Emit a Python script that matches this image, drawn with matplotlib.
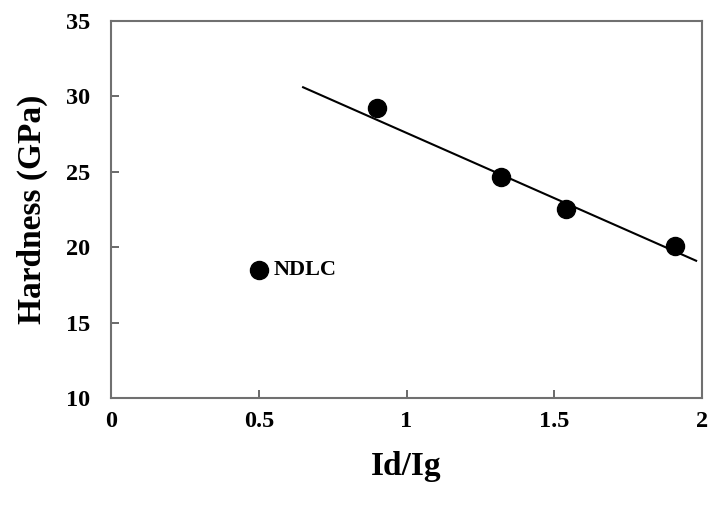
import numpy as np
import matplotlib
matplotlib.use("Agg")
import matplotlib.pyplot as plt

# measured hardness vs Raman intensity ratio
id_ig = [0.90, 1.32, 1.54, 1.91]
hardness = [29.2, 24.65, 22.5, 20.1]

# NDLC sample, shown separately
ndlc_x = [0.50]
ndlc_y = [18.5]

# linear trend drawn across the measured points
trend_x = [0.65, 1.98]
trend_y = [30.6, 19.1]

plt.rcParams['font.family'] = ['Liberation Serif', 'DejaVu Serif']
plt.rcParams['font.weight'] = 'bold'

fig = plt.figure(figsize=(7.12, 5.09), dpi=100)
ax = fig.add_axes([0.1559, 0.218, 0.8301, 0.741])

ax.plot(trend_x, trend_y, color='black', lw=1.5, zorder=2)
ax.plot(id_ig, hardness, 'o', color='black', ms=13, zorder=3)
ax.plot(ndlc_x, ndlc_y, 'o', color='black', ms=13, zorder=3)
ax.text(ndlc_x[0] + 0.05, ndlc_y[0], 'NDLC', fontsize=16, fontweight='bold',
        va='center', ha='left')

ax.set_xlim(0, 2)
ax.set_ylim(10, 35)
ax.set_xticks([0, 0.5, 1, 1.5, 2])
ax.set_xticklabels(['0', '0.5', '1', '1.5', '2'])
ax.set_yticks([10, 15, 20, 25, 30, 35])

for s in ax.spines.values():
    s.set_color('#707070')
    s.set_linewidth(1.5)

ax.tick_params(axis='both', direction='in', length=6, width=1.2, color='#505050',
               labelsize=17.5)
ax.tick_params(axis='x', pad=9)
ax.tick_params(axis='y', pad=15)
for lab in ax.get_xticklabels() + ax.get_yticklabels():
    lab.set_fontweight('bold')

ax.set_xlabel('Id/Ig', fontsize=24, fontweight='bold', labelpad=14)
ax.set_ylabel('Hardness (GPa)', fontsize=24, fontweight='bold', labelpad=13)

fig.savefig('out.png', dpi=100)
